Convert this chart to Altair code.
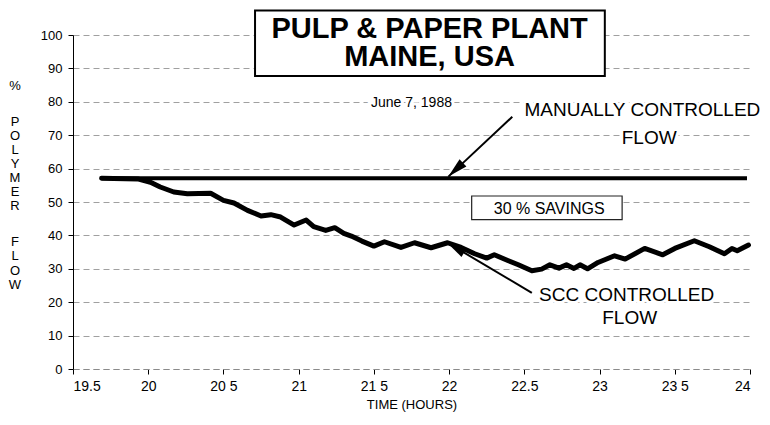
import math
import altair as alt
import pandas as pd

# ---------------- data ----------------
scc_hours = [19.69, 19.93, 20.015, 20.08, 20.17, 20.26, 20.415, 20.50, 20.57, 20.66,
             20.75, 20.815, 20.88, 20.97, 21.05, 21.10, 21.18, 21.24, 21.30, 21.35,
             21.42, 21.50, 21.57, 21.68, 21.77, 21.88, 21.99, 22.08, 22.17, 22.25,
             22.30, 22.39, 22.46, 22.55, 22.615, 22.67, 22.73, 22.78, 22.83, 22.87,
             22.92, 22.99, 23.10, 23.17, 23.30, 23.42, 23.50, 23.63, 23.73, 23.83,
             23.88, 23.915, 23.99]
scc_flow = [57.1, 56.9, 55.9, 54.5, 53.0, 52.5, 52.6, 50.5, 49.7, 47.5,
            45.8, 46.2, 45.5, 43.1, 44.6, 42.6, 41.5, 42.3, 40.6, 39.8,
            38.3, 36.8, 38.1, 36.4, 37.8, 36.3, 37.8, 36.4, 34.5, 33.2,
            34.2, 32.5, 31.2, 29.4, 29.9, 31.2, 30.2, 31.2, 30.1, 31.2,
            30.0, 31.9, 33.9, 32.9, 36.1, 34.2, 36.1, 38.4, 36.6, 34.5,
            36.1, 35.4, 37.1]
manual_hours = [19.69, 23.98]
manual_flow = [57.1, 57.1]

x_ticks = [19.5, 20, 20.5, 21, 21.5, 22, 22.5, 23, 23.5, 24]
x_tick_labels = ["19.5", "20", "20 5", "21", "21 5", "22", "22.5", "23", "23 5", "24"]
y_ticks = [0, 10, 20, 30, 40, 50, 60, 70, 80, 90, 100]

title_lines = ["PULP & PAPER PLANT", "MAINE, USA"]
note_texts = ["June 7, 1988", "MANUALLY CONTROLLED", "FLOW", "SCC CONTROLLED", "FLOW"]
savings_text = "30 % SAVINGS"

# ---------------- layout / annotation placement ----------------
W, H = 677, 334
X0, X1 = 19.5, 24
Y0, Y1 = 0, 100
FONT = "Liberation Sans"

title_box = dict(x=20.71, x2=23.035, y=87.7, y2=107.3)
title_pos = (21.87, 106.1)
note_pos = [(21.75, 79.7, 14), (23.285, 77.5, 19), (23.33, 69.3, 19),
            (23.18, 22.1, 19), (23.20, 15.3, 19)]
savings_box = dict(x=22.15, x2=23.15, y=44.7, y2=51.8)
savings_pos = (22.665, 48.0)
arrows = [((22.42, 75.5), (21.995, 57.6)),
          ((22.55, 22.8), (21.985, 37.9))]

xs = alt.Scale(domain=[X0, X1], nice=False, zero=False)
ys = alt.Scale(domain=[Y0, Y1], nice=False)

label_expr = ("[" + ",".join("'%s'" % s for s in x_tick_labels) +
              "][round((datum.value - 19.5) * 2)]")

xaxis = alt.Axis(values=x_ticks, labelExpr=label_expr, grid=False,
                 domainColor="#8a8a8a", domainDash=[6, 4], domainWidth=1,
                 tickColor="black", tickSize=5, tickWidth=1,
                 labelFont=FONT, labelFontSize=14, labelPadding=5, labelColor="black",
                 title="TIME (HOURS)", titleFont=FONT, titleFontSize=13,
                 titleFontWeight="normal", titleColor="black",
                 titleY=35, titleBaseline="middle")
yaxis = alt.Axis(values=y_ticks, grid=True, gridColor="#a0a0a0", gridDash=[6, 4],
                 gridWidth=1, domainColor="black", domainWidth=1,
                 tickColor="black", tickSize=5, tickWidth=1,
                 labelFont=FONT, labelFontSize=13, labelPadding=6, labelColor="black",
                 title=None)


def X(f="x"):
    return alt.X(f + ":Q", scale=xs, axis=xaxis)


def Y(f="y"):
    return alt.Y(f + ":Q", scale=ys, axis=yaxis)


manual_df = pd.DataFrame({"x": manual_hours, "y": manual_flow})
scc_df = pd.DataFrame({"x": scc_hours, "y": scc_flow})

px_h = W / (X1 - X0)
px_v = H / (Y1 - Y0)
rule_rows, head_rows = [], []
for (sx, sy), (tx, ty) in arrows:
    dx = (tx - sx) * px_h
    dy = -(ty - sy) * px_v
    ang = (math.degrees(math.atan2(dx, -dy)) + 360) % 360
    rule_rows.append({"x": sx, "y": sy, "x2": tx, "y2": ty})
    head_rows.append({"x": tx, "y": ty, "angle": ang})
rule_df = pd.DataFrame(rule_rows)
head_df = pd.DataFrame(head_rows)

manual = alt.Chart(manual_df).mark_line(color="black", strokeWidth=4).encode(x=X(), y=Y())
scc = alt.Chart(scc_df).mark_line(color="black", strokeWidth=5, strokeJoin="round",
                                  strokeCap="round").encode(x=X(), y=Y())
rules = alt.Chart(rule_df).mark_rule(color="black", strokeWidth=2).encode(
    x=X(), y=Y(), x2="x2:Q", y2="y2:Q")
heads = alt.Chart(head_df).mark_point(shape="M0,0L-0.5,2L0.5,2Z", filled=True,
                                      color="black", opacity=1, size=400).encode(
    x=X(), y=Y(), angle=alt.Angle("angle:Q", scale=None))

tbox = alt.Chart(pd.DataFrame([title_box])).mark_rect(
    fill="white", stroke="black", strokeWidth=2).encode(x=X(), y=Y(), x2="x2:Q", y2="y2:Q")
ttext = alt.Chart(pd.DataFrame({"t": ["\n".join(title_lines)], "x": [title_pos[0]],
                                "y": [title_pos[1]]})).mark_text(
    font=FONT, fontSize=29, fontWeight="bold", color="black", baseline="top",
    align="center", lineBreak="\n", lineHeight=28.8).encode(x=X(), y=Y(), text="t:N")

sbox = alt.Chart(pd.DataFrame([savings_box])).mark_rect(
    fill="white", stroke="#222", strokeWidth=1.2).encode(x=X(), y=Y(), x2="x2:Q", y2="y2:Q")
stext = alt.Chart(pd.DataFrame({"t": [savings_text], "x": [savings_pos[0]],
                                "y": [savings_pos[1]]})).mark_text(
    font=FONT, fontSize=16, color="black", baseline="middle", align="center").encode(
    x=X(), y=Y(), text="t:N")

notes_df = pd.DataFrame({"t": note_texts, "x": [p[0] for p in note_pos],
                         "y": [p[1] for p in note_pos], "s": [p[2] for p in note_pos]})
halo = alt.Chart(notes_df).mark_text(font=FONT, color="white", stroke="white",
                                     strokeWidth=6, baseline="middle", align="center").encode(
    x=X(), y=Y(), text="t:N", size=alt.Size("s:Q", scale=None, legend=None))
notes = alt.Chart(notes_df).mark_text(font=FONT, color="black", baseline="middle",
                                      align="center").encode(
    x=X(), y=Y(), text="t:N", size=alt.Size("s:Q", scale=None, legend=None))

ytitle_blocks = [("%", 45.3, 14.3), ("P\nO\nL\nY\nM\nE\nR", 80.5, 14.1),
                 ("F\nL\nO\nW", 200.5, 14.6)]
ytitle_layers = []
for txt, ypix, lh in ytitle_blocks:
    ytitle_layers.append(
        alt.Chart(pd.DataFrame({"t": [txt]})).mark_text(
            font=FONT, fontSize=13, color="black", align="center", baseline="top",
            lineBreak="\n", lineHeight=lh).encode(
            x=alt.value(-58), y=alt.value(ypix), text="t:N"))

chart = alt.layer(manual, scc, rules, heads, tbox, ttext, sbox, stext, halo, notes,
                  *ytitle_layers).properties(
    width=W, height=H,
    padding={"left": 65, "top": 27, "right": 12, "bottom": 44},
    autosize=alt.AutoSizeParams(type="none"),
    background="white",
).configure_view(stroke=None)

chart.save("out.html", embed_options={"renderer": "svg", "actions": False})
